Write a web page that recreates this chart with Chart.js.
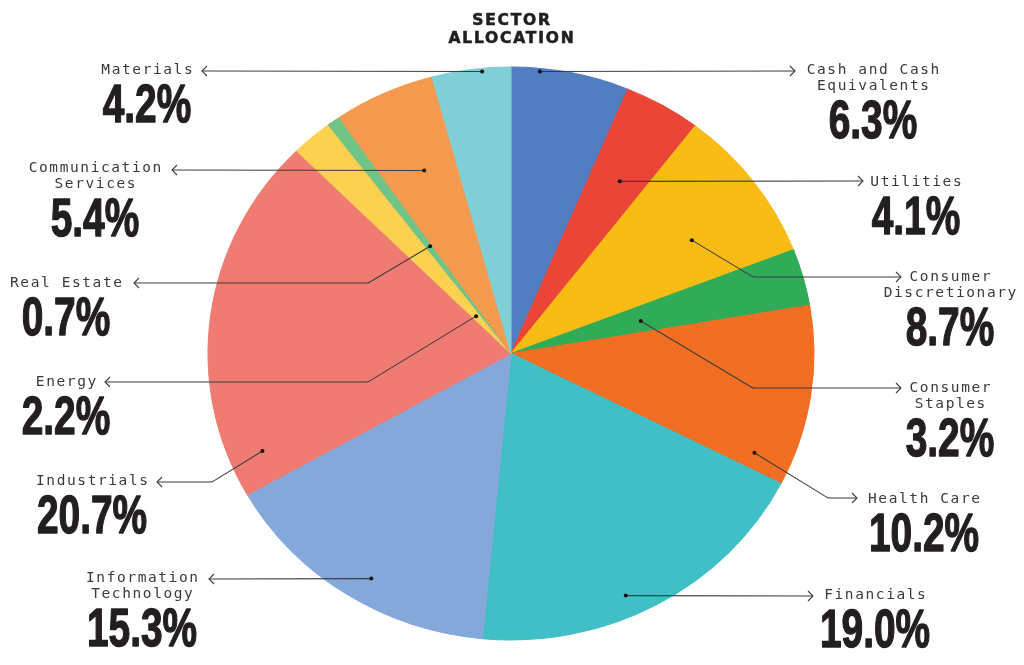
<!DOCTYPE html>
<html>
<head>
<meta charset="utf-8">
<script src="https://cdn.jsdelivr.net/npm/chart.js@4.4.0/dist/chart.umd.min.js"></script>
<style>
  html, body { margin: 0; padding: 0; background: #fff; }
</style>
</head>
<body>
<canvas id="sectorChart" width="1024" height="665"></canvas>
<script>
// Data
const sectors = ['Cash and Cash Equivalents', 'Utilities', 'Consumer Discretionary', 'Consumer Staples',
  'Health Care', 'Financials', 'Information Technology', 'Industrials', 'Energy', 'Real Estate',
  'Communication Services', 'Materials'];
const weights = [6.3, 4.1, 8.7, 3.2, 10.2, 19.0, 15.3, 20.7, 2.2, 0.7, 5.4, 4.2];
const labelLines = [['Cash and Cash', 'Equivalents'], ['Utilities'], ['Consumer', 'Discretionary'],
  ['Consumer', 'Staples'], ['Health Care'], ['Financials'], ['Information', 'Technology'],
  ['Industrials'], ['Energy'], ['Real Estate'], ['Communication', 'Services'], ['Materials']];
const sliceColors = ['#527ec1', '#ea4537', '#f9bc15', '#30ab57', '#f16e22', '#41bfc6',
  '#85a8da', '#f07b72', '#fcd14f', '#71c386', '#f69a4f', '#80ced6'];

// pie is drawn a bit wider than tall, like the original
const stretchX = 1.0575;

// callout layout: t = position along slice angle, r = fraction of radius for the dot
const callouts = [
  { t: 0.244, r: 0.989, elbow: null, lineY: 71,  tip: 795, side: 1,  cx: 873, y: 70 },
  { t: 0.555, r: 0.700, elbow: null, lineY: 181, tip: 863, side: 1,  cx: 916, y: 182 },
  { t: 0.607, r: 0.716, elbow: 753,  lineY: 277, tip: 901, side: 1,  cx: 950, y: 277 },
  { t: 0.558, r: 0.443, elbow: 753,  lineY: 388, tip: 901, side: 1,  cx: 950, y: 388 },
  { t: 0.900, r: 0.875, elbow: 828,  lineY: 498, tip: 857, side: 1,  cx: 924, y: 499 },
  { t: 0.568, r: 0.926, elbow: null, lineY: 596, tip: 813, side: 1,  cx: 875, y: 595 },
  { t: 0.454, r: 0.911, elbow: null, lineY: 579, tip: 209, side: -1, cx: 142, y: 578 },
  { t: 0.094, r: 0.888, elbow: 212,  lineY: 482, tip: 157, side: -1, cx: 92,  y: 481 },
  { t: 0.450, r: 0.174, elbow: 368,  lineY: 382, tip: 105, side: -1, cx: 66,  y: 382 },
  { t: 0.635, r: 0.460, elbow: 368,  lineY: 283, tip: 134, side: -1, cx: 66,  y: 283 },
  { t: 0.535, r: 0.700, elbow: null, lineY: 170, tip: 172, side: -1, cx: 95,  y: 168 },
  { t: 0.634, r: 0.989, elbow: null, lineY: 71,  tip: 202, side: -1, cx: 147, y: 70 }
];

const ellipsePlugin = {
  id: 'ellipse',
  beforeDatasetsDraw(chart) {
    const arc = chart.getDatasetMeta(0).data[0];
    const ctx = chart.ctx;
    ctx.save();
    ctx.translate(arc.x, arc.y);
    ctx.scale(stretchX, 1);
    ctx.translate(-arc.x, -arc.y);
  },
  afterDatasetsDraw(chart) {
    chart.ctx.restore();
  }
};

const calloutPlugin = {
  id: 'callouts',
  afterDraw(chart) {
    const ctx = chart.ctx;
    const arcs = chart.getDatasetMeta(0).data;

    // title
    ctx.save();
    ctx.fillStyle = '#231f20';
    ctx.strokeStyle = '#231f20';
    ctx.lineWidth = 0.6;
    ctx.font = 'bold 15.5px "DejaVu Sans"';
    ctx.letterSpacing = '1.8px';
    ctx.textAlign = 'center';
    ctx.textBaseline = 'alphabetic';
    ctx.fillText('SECTOR', 512, 25);
    ctx.strokeText('SECTOR', 512, 25);
    ctx.fillText('ALLOCATION', 512, 43);
    ctx.strokeText('ALLOCATION', 512, 43);
    ctx.restore();

    arcs.forEach((arc, i) => {
      const c = callouts[i];
      const p = arc.getProps(['x', 'y', 'startAngle', 'endAngle', 'outerRadius'], true);
      const a = p.startAngle + c.t * (p.endAngle - p.startAngle);
      const R = c.r * p.outerRadius;
      const dx = p.x + stretchX * Math.cos(a) * R;
      const dy = p.y + Math.sin(a) * R;

      // leader line
      ctx.save();
      ctx.strokeStyle = '#3d3d3d';
      ctx.lineWidth = 1.1;
      ctx.beginPath();
      ctx.moveTo(dx, dy);
      if (c.elbow !== null) {
        ctx.arcTo(c.elbow, c.lineY, c.tip, c.lineY, 6);
      }
      ctx.lineTo(c.tip, c.lineY);
      ctx.stroke();
      // arrow head
      ctx.beginPath();
      ctx.moveTo(c.tip - c.side * 5, c.lineY - 5);
      ctx.lineTo(c.tip, c.lineY);
      ctx.lineTo(c.tip - c.side * 5, c.lineY + 5);
      ctx.stroke();
      // dot
      ctx.fillStyle = '#111';
      ctx.beginPath();
      ctx.arc(dx, dy, 2, 0, Math.PI * 2);
      ctx.fill();

      // names
      ctx.fillStyle = '#3a3a3a';
      ctx.font = '14.5px "DejaVu Sans Mono"';
      ctx.letterSpacing = '1.6px';
      ctx.textAlign = 'center';
      ctx.textBaseline = 'middle';
      const lines = labelLines[i];
      lines.forEach((ln, k) => ctx.fillText(ln, c.cx + 0.8, c.y + k * 16));
      const lastY = c.y + (lines.length - 1) * 16;

      // percentage
      ctx.letterSpacing = '0px';
      ctx.fillStyle = '#231f20';
      ctx.strokeStyle = '#231f20';
      ctx.lineWidth = 1.4;
      ctx.lineJoin = 'round';
      ctx.font = 'bold 54px "Liberation Sans"';
      ctx.textBaseline = 'alphabetic';
      ctx.translate(c.cx, lastY + 52);
      ctx.scale(0.72, 1);
      const pct = weights[i].toFixed(1) + '%';
      ctx.fillText(pct, 0, 0);
      ctx.strokeText(pct, 0, 0);
      ctx.restore();
    });
  }
};

new Chart(document.getElementById('sectorChart'), {
  type: 'pie',
  data: {
    labels: sectors,
    datasets: [{
      data: weights,
      backgroundColor: sliceColors,
      borderColor: sliceColors,
      borderWidth: 1,
      clip: false
    }]
  },
  options: {
    responsive: false,
    animation: false,
    events: [],
    layout: { padding: { top: 66.5, bottom: 24.5, left: 200, right: 202 } },
    plugins: {
      legend: { display: false },
      tooltip: { enabled: false }
    }
  },
  plugins: [ellipsePlugin, calloutPlugin]
});
</script>
</body>
</html>
